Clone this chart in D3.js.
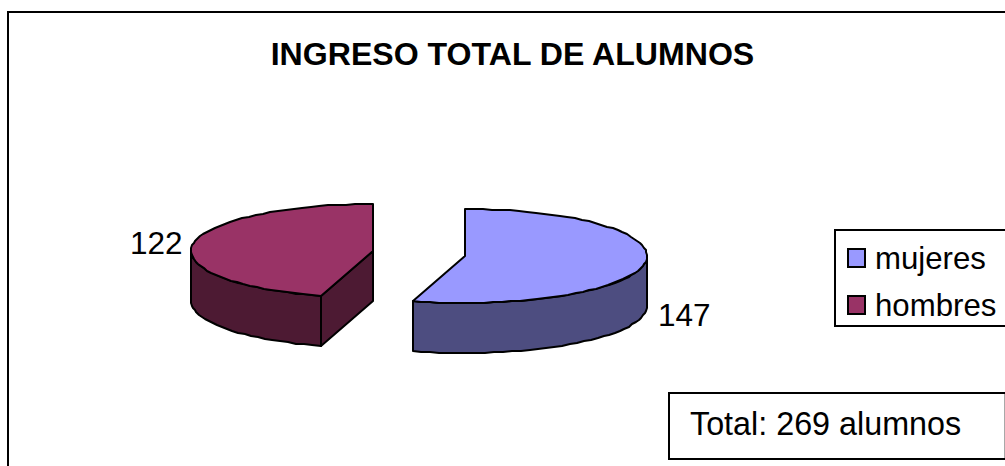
<!DOCTYPE html>
<html>
<head>
<meta charset="utf-8">
<style>
  html, body { margin: 0; padding: 0; background: #fff; }
  svg { display: block; }
  text { font-family: "Liberation Sans", Arial, sans-serif; fill: #000; }
</style>
<script src="https://cdn.jsdelivr.net/npm/d3@7"></script>
</head>
<body>
<svg width="1005" height="466"></svg>
<script>
const categories = ["mujeres", "hombres"];
const values = [147, 122];
const titleText = "INGRESO TOTAL DE ALUMNOS";
const totalText = "Total: 269 alumnos";

const topColors = ["#9999ff", "#993366"];
const sideColors = ["#4d4d80", "#4d1a33"];

const svg = d3.select("svg");

const rx = 182, ry = 47, depth = 50;
const centers = [[465, 256], [373, 251]];
const labelPos = [[658, 326], [130, 254]];

// unit circle -> flattened pie
const xScale = d3.scaleLinear().domain([-1, 1]).range([-rx, rx]);
const yScale = d3.scaleLinear().domain([-1, 1]).range([-ry, ry]);

// the original rim is a slightly bumpy polyline, so keep it on whole pixels
const rim = (a, c, dy = 0) => [
  c[0] + Math.round(xScale(Math.sin(a))),
  c[1] + Math.round(yScale(-Math.cos(a))) + dy
];
const line = d3.line();

const arcPoints = (a0, a1, c, dy = 0) => {
  const n = Math.max(2, Math.round(Math.abs(a1 - a0) / 0.05));
  return d3.range(0, n + 1).map(i => rim(a0 + (a1 - a0) * i / n, c, dy));
};

const slices = d3.pie().sort(null)(values);

svg.append("rect")
    .attr("x", 8).attr("y", 12)
    .attr("width", 1100).attr("height", 600)
    .attr("fill", "#fff").attr("stroke", "#000").attr("stroke-width", 2);

svg.append("text")
    .attr("x", 512.5).attr("y", 65)
    .attr("text-anchor", "middle")
    .attr("font-size", 32.1).attr("font-weight", "bold")
    .text(titleText);

slices.forEach((s, i) => {
  const c = centers[i];
  const g = svg.append("g")
      .attr("stroke", "#000").attr("stroke-width", 2).attr("stroke-linejoin", "round");

  // outer wall, only the part facing the viewer
  const a0 = Math.max(s.startAngle, Math.PI / 2);
  const a1 = Math.min(s.endAngle, Math.PI * 1.5);
  g.append("path")
      .attr("d", line(arcPoints(a0, a1, c).concat(arcPoints(a1, a0, c, depth))) + "Z")
      .attr("fill", sideColors[i]);

  // cut wall, visible on the slice that ends at the top
  if (s.endAngle >= Math.PI * 2) {
    const p = rim(s.startAngle, c);
    g.append("path")
        .attr("d", line([c, p, [p[0], p[1] + depth], [c[0], c[1] + depth]]) + "Z")
        .attr("fill", sideColors[i]);
  }

  g.append("path")
      .attr("d", line([c].concat(arcPoints(s.startAngle, s.endAngle, c))) + "Z")
      .attr("fill", topColors[i]);

  svg.append("text")
      .attr("x", labelPos[i][0]).attr("y", labelPos[i][1])
      .attr("font-size", 31.5)
      .text(values[i]);
});

// legend
const legend = svg.append("g");
legend.append("rect")
    .attr("x", 835).attr("y", 230).attr("width", 200).attr("height", 96)
    .attr("fill", "#fff").attr("stroke", "#000").attr("stroke-width", 2);

const legendY = d3.scalePoint().domain(categories).range([258, 305]);

categories.forEach((name, i) => {
  legend.append("rect")
      .attr("x", 848).attr("y", legendY(name) - 9)
      .attr("width", 17).attr("height", 18)
      .attr("fill", topColors[i]).attr("stroke", "#000").attr("stroke-width", 2);
  legend.append("text")
      .attr("x", 875).attr("y", legendY(name) + 11)
      .attr("font-size", 31.2)
      .text(name);
});

// total box
svg.append("rect")
    .attr("x", 669).attr("y", 393).attr("width", 400).attr("height", 66)
    .attr("fill", "#fff").attr("stroke", "#000").attr("stroke-width", 2);
svg.append("line")
    .attr("x1", 1004.5).attr("x2", 1004.5)
    .attr("y1", 394).attr("y2", 458)
    .attr("stroke", "#a8a8a8");
svg.append("text")
    .attr("x", 690).attr("y", 435)
    .attr("font-size", 32.3)
    .text(totalText);
</script>
</body>
</html>
